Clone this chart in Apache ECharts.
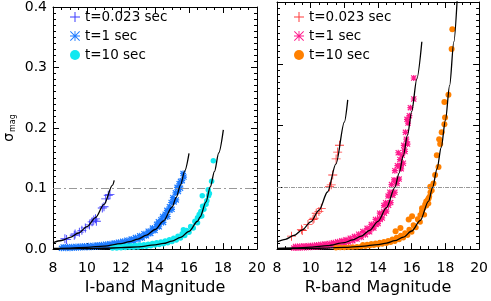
<!DOCTYPE html>
<html><head><meta charset="utf-8">
<script src="https://cdn.jsdelivr.net/npm/echarts@6/dist/echarts.min.js"></script>
<style>html,body{margin:0;padding:0;background:#fff}#c{width:491px;height:301px}</style>
</head><body><div id="c"></div>
<script>
// ---------- data (magnitude, sigma_mag) ----------
const legendNames = ['t=0.023 sec', 't=1 sec', 't=10 sec'];
const threshold = 0.1;

// ----- I band -----
const iT0023 = [[8.7,0.017],[8.8,0.016],[9.25,0.023],[9.3,0.025],[9.55,0.028],[9.7,0.031],[9.9,0.035],[10.15,0.040],[10.3,0.045],[10.4,0.048],[10.5,0.050],[10.55,0.046],[10.9,0.068],[11.0,0.070],[11.1,0.083],[11.25,0.089],[11.35,0.090]];
const iT1 = [
  [8.5,0.0012],[8.75,0.0014],[9.0,0.0016],[9.25,0.0019],[9.5,0.0021],[9.75,0.0025],[10.0,0.0028],[10.25,0.0031],[10.5,0.0036],[10.75,0.0042],[11.0,0.0048],[11.25,0.0055],[11.5,0.0064],[11.75,0.0074],[12.0,0.0086],[12.25,0.0100],[12.5,0.0116],[12.75,0.0135],[13.0,0.0158],[13.25,0.0185],[13.5,0.0219],[13.75,0.0259],[14.0,0.0308],[14.25,0.0369],[14.5,0.0441],[14.75,0.0539],[15.0,0.0657],[15.25,0.0813],[15.5,0.1006],[15.7,0.119],
  [8.6,0.0036],[8.85,0.0038],[9.1,0.0040],[9.35,0.0044],[9.6,0.0046],[9.85,0.0051],[10.1,0.0055],[10.35,0.0060],[10.6,0.0066],[10.85,0.0073],[11.1,0.0080],[11.35,0.0090],[11.6,0.0100],[11.85,0.0114],[12.1,0.0128],[12.35,0.0146],[12.6,0.0166],[12.85,0.0190],[13.1,0.0219],[13.35,0.0254],[13.6,0.0296],[13.85,0.0348],[14.1,0.0409],[14.35,0.0486],[14.6,0.0577],[14.85,0.0700],[15.05,0.0850],[15.3,0.1020],[15.5,0.1120],[15.65,0.1250],
  [13.625,0.026],[13.875,0.031],[14.125,0.037],[14.375,0.044],[14.625,0.053],[14.875,0.064],[15.125,0.078],[15.375,0.095],[15.6,0.113],[14.2,0.045],[14.45,0.054],[14.7,0.064],[14.95,0.077],[15.2,0.093],[15.42,0.108]];
const iT10 = [
  [11.5,0.0017],[11.75,0.0019],[12.0,0.0022],[12.25,0.0025],[12.5,0.0029],[12.75,0.0032],[13.0,0.0036],[13.25,0.0042],[13.5,0.0048],[13.75,0.0057],[14.0,0.0066],[14.25,0.0076],[14.5,0.0088],[14.75,0.0105],[15.0,0.0125],[15.25,0.0152],[15.5,0.0183],[15.75,0.0226],[16.0,0.0278],[16.25,0.0349],[16.5,0.0437],[16.75,0.0546],[17.0,0.0740],[17.2,0.0920],
  [11.6,0.0042],[11.85,0.0044],[12.1,0.0048],[12.35,0.0051],[12.6,0.0056],[12.85,0.0061],[13.1,0.0066],[13.35,0.0073],[13.6,0.0081],[13.85,0.0092],[14.1,0.0103],[14.35,0.0116],[14.6,0.0132],[14.85,0.0153],[15.1,0.0178],[15.35,0.0212],[15.6,0.0252],[15.85,0.0306],[16.1,0.0372],[16.35,0.0460],[16.6,0.0572],[16.8,0.0710],
  [15.875,0.029],[16.125,0.036],[16.375,0.044],[16.625,0.054],[16.875,0.066],[17.05,0.080],[17.15,0.088],[16.5,0.052],[16.7,0.062],
  [15.67,0.032],[16.78,0.088],[17.13,0.098],[17.33,0.112],[17.43,0.146]];
const iFit0023 = [[8.0,0.0105],[8.5,0.0142],[9.0,0.0193],[9.5,0.0266],[10.0,0.037],[10.5,0.052],[11.0,0.0738],[11.5,0.1058],[11.6,0.1137]];
const iFit1 = [[8,0.001],[9,0.0017],[10,0.0029],[11,0.005],[12,0.009],[12.5,0.0122],[13,0.0166],[13.5,0.023],[14,0.0324],[14.5,0.0464],[15,0.0692],[15.25,0.0856],[15.5,0.1059],[15.75,0.1293],[16.0,0.158]];
const iFit10 = [[8,0.0003],[9,0.0005],[10,0.0008],[11,0.0014],[12,0.0023],[13,0.0038],[14,0.0069],[14.5,0.0093],[15,0.0132],[15.5,0.0193],[16,0.0293],[16.5,0.046],[16.65,0.053],[17,0.0779],[17.25,0.1026],[17.5,0.1285],[17.75,0.159],[18.02,0.197]];

// ----- R band -----
const rT0023 = [[8.86,0.021],[9.45,0.032],[9.5,0.030],[9.84,0.040],[10.14,0.048],[10.2,0.050],[10.33,0.058],[10.49,0.061],[10.63,0.066],[11.12,0.101],[11.22,0.104],[11.31,0.120],[11.51,0.146],[11.6,0.157],[11.71,0.168]];
const rT1 = [
  [9.0,0.0017],[9.25,0.0019],[9.5,0.0022],[9.75,0.0026],[10.0,0.0029],[10.25,0.0034],[10.5,0.0040],[10.75,0.0045],[11.0,0.0052],[11.25,0.0062],[11.5,0.0072],[11.75,0.0084],[12.0,0.0098],[12.25,0.0115],[12.5,0.0136],[12.75,0.0162],[13.0,0.0193],[13.25,0.0233],[13.5,0.0280],[13.75,0.0340],[14.0,0.0413],[14.25,0.0504],[14.5,0.0616],[14.75,0.0753],[15.0,0.0920],[15.25,0.1133],[15.5,0.1390],[15.75,0.1700],
  [9.1,0.0043],[9.35,0.0046],[9.6,0.0050],[9.85,0.0055],[10.1,0.0060],[10.35,0.0066],[10.6,0.0074],[10.85,0.0081],[11.1,0.0091],[11.35,0.0104],[11.6,0.0118],[11.85,0.0134],[12.1,0.0153],[12.35,0.0176],[12.6,0.0205],[12.85,0.0240],[13.1,0.0283],[13.35,0.0336],[13.6,0.0400],[13.85,0.0481],[14.1,0.0581],[14.35,0.0705],[14.6,0.0858],[14.8,0.1044],[15.0,0.1270],[15.2,0.1560],
  [13.6,0.0334],[13.85,0.0406],[14.1,0.0494],[14.35,0.0603],[14.6,0.0737],[14.85,0.0901],[15.1,0.1100],[15.35,0.1354],[15.55,0.1600],
  [13.875,0.040],[14.125,0.048],[14.375,0.058],[14.625,0.071],[14.875,0.087],[15.125,0.106],[15.375,0.130],[15.6,0.158],[15.68,0.178],[14.45,0.075],[14.7,0.092],[14.95,0.112],[15.15,0.135],[15.3,0.145],
  [15.43,0.152],[15.53,0.168],[15.63,0.189],[15.72,0.210],[15.78,0.204],[15.86,0.216],[15.92,0.229],[16.12,0.243],[16.12,0.277]];
const rT10Band = [
  [11.5,0.0021],[11.75,0.0024],[12.0,0.0027],[12.25,0.0030],[12.5,0.0034],[12.75,0.0038],[13.0,0.0043],[13.25,0.0048],[13.5,0.0055],[13.75,0.0063],[14.0,0.0070],[14.25,0.0081],[14.5,0.0093],[14.75,0.0109],[15.0,0.0129],[15.25,0.0154],[15.5,0.0183],[15.75,0.0226],[16.0,0.0278],[16.25,0.0349],[16.5,0.0437],[16.75,0.0558],[17.0,0.0738],
  [13.1,0.0069],[13.35,0.0076],[13.6,0.0085],[13.85,0.0096],[14.1,0.0106],[14.35,0.0121],[14.6,0.0137],[14.85,0.0160],[15.1,0.0187],[15.35,0.0221],[15.6,0.0261],[15.85,0.0319],[16.1,0.0391],[16.35,0.0487],[16.6,0.0608],[16.85,0.0773],[17.1,0.0920],
  [15.875,0.030],[16.125,0.037],[16.375,0.047],[16.625,0.058],[16.875,0.070],[17.05,0.085],[17.2,0.095],[16.5,0.055],[16.7,0.066],[16.95,0.080]];
const rT10Scatter = [[15.04,0.029],[15.33,0.034],[15.82,0.048],[16.02,0.053],[16.61,0.066],[16.8,0.072],[17.0,0.082],[17.1,0.101],[17.29,0.106],[17.39,0.120],[17.59,0.133],[17.49,0.152],[17.69,0.170],[17.63,0.178],[17.78,0.189],[17.94,0.202],[17.98,0.213],[17.94,0.238],[18.18,0.250],[18.37,0.324],[18.41,0.356]];
const rFit0023 = [[8.0,0.0115],[8.5,0.0159],[9.0,0.0221],[9.5,0.0311],[10.0,0.0441],[10.5,0.0632],[11.0,0.0924],[11.5,0.1379],[12.0,0.2057],[12.2,0.2415]];
const rFit1 = [[8,0.0011],[9,0.0018],[10,0.0032],[11,0.0057],[12,0.0106],[12.5,0.0148],[13,0.021],[13.5,0.0304],[14,0.0449],[14.5,0.067],[15,0.1],[15.25,0.1231],[15.5,0.1511],[15.75,0.1845],[16.0,0.2231],[16.3,0.2753],[16.6,0.3356]];
const rFit10 = [[8,0.0004],[9,0.0007],[10,0.0011],[11,0.0017],[12,0.0028],[13,0.0045],[14,0.0074],[14.5,0.0098],[15,0.0136],[15.5,0.0193],[16,0.0293],[16.5,0.046],[17,0.0777],[17.24,0.1],[17.5,0.1297],[17.75,0.1645],[18.0,0.2086],[18.25,0.2645],[18.5,0.3354],[18.7,0.405]];

// ---------- styling ----------
const FONT = 'DejaVu Sans';
const PLUS = 'path://M9,0h2v20h-2zM0,9h20v2h-20z';
const ASTER = 'path://M9.1,0h1.8v20h-1.8zM0,9.1h20v1.8h-20zM1.3,0L20,18.7L18.7,20L0,1.3zM18.7,0L20,1.3L1.3,20L0,18.7z';
const ASTER_B = 'path://M8,0h4v20h-4zM0,8h20v4h-20zM2.8,0L20,17.2L17.2,20L0,2.8zM17.2,0L20,2.8L2.8,20L0,17.2z';
const colI = ['#3c3cff', '#1e7bff', '#12e8f0'];
const colR = ['#ff3c3c', '#ff1a8c', '#ff8000'];

function xAx(grid, pos, name) {
  return {
    type: 'value', gridIndex: grid, position: pos, min: 8, max: 20, interval: 2,
    name: name || '', nameLocation: 'middle', nameGap: 29,
    nameTextStyle: {fontFamily: FONT, fontSize: 16, color: '#000'},
    axisLine: {show: true, onZero: false, lineStyle: {color: '#000', width: 1}},
    axisTick: {show: true, inside: true, length: 6, lineStyle: {color: '#000'}},
    minorTick: {show: true, splitNumber: 4, length: 3, lineStyle: {color: '#000'}},
    axisLabel: {show: pos === 'bottom', fontFamily: FONT, fontSize: 14, color: '#000', margin: 12},
    splitLine: {show: false}
  };
}
function yAx(grid, pos, showLabel) {
  return {
    type: 'value', gridIndex: grid, position: pos, min: 0, max: 0.4, interval: 0.1,
    name: showLabel ? '{a|σ}{b|mag}' : '', nameLocation: 'middle', nameGap: 36, nameRotate: 90,
    nameTextStyle: {rich: {
      a: {fontFamily: FONT, fontSize: 14, color: '#000'},
      b: {fontFamily: FONT, fontSize: 8, color: '#000', padding: [8, 0, 0, 1]}
    }},
    axisLine: {show: true, onZero: false, lineStyle: {color: '#000', width: 1}},
    axisTick: {show: true, inside: true, length: 6, lineStyle: {color: '#000'}},
    minorTick: {show: true, splitNumber: 10, length: 3, lineStyle: {color: '#000'}},
    axisLabel: {show: showLabel, fontFamily: FONT, fontSize: 14, color: '#000', margin: 6,
      formatter: v => v.toFixed(1)},
    splitLine: {show: false}
  };
}
function scat(name, data, xi, color, symbol, size) {
  return {type: 'scatter', name, data, xAxisIndex: xi, yAxisIndex: xi, symbol, symbolSize: size,
    itemStyle: {color, opacity: 1}, z: 2, animation: false, silent: true, large: false};
}
function fit(data, xi, extra) {
  const s = {type: 'line', data, xAxisIndex: xi, yAxisIndex: xi, smooth: 0.3, smoothMonotone: 'x',
    symbol: 'none', lineStyle: {color: '#000', width: 1.3}, z: 5, animation: false, silent: true};
  return Object.assign(s, extra || {});
}
function thr(dash) {
  return {silent: true, symbol: 'none', label: {show: false}, animation: false,
    lineStyle: {color: '#999', width: 1, type: dash}, data: [{yAxis: threshold}]};
}
function legend(left, prefix, cols) {
  return {
    left, top: 5, orient: 'vertical', itemGap: 5, itemWidth: 10, itemHeight: 10, selectedMode: false,
    textStyle: {fontFamily: FONT, fontSize: 13.5, color: '#000'},
    formatter: n => n.slice(2),
    data: [
      {name: prefix + legendNames[0], icon: PLUS, itemStyle: {color: cols[0]}},
      {name: prefix + legendNames[1], icon: ASTER, itemStyle: {color: cols[1]}},
      {name: prefix + legendNames[2], icon: 'circle', itemStyle: {color: cols[2]}}
    ]
  };
}

const chart = echarts.init(document.getElementById('c'), null, {renderer: 'canvas'});
chart.setOption({
  animation: false,
  backgroundColor: '#fff',
  grid: [
    {left: 53, right: 234, top: 2, bottom: 49.5},
    {left: 277, right: 10, top: 2, bottom: 49.5}
  ],
  xAxis: [xAx(0, 'bottom', 'I-band Magnitude'), xAx(0, 'top'), xAx(1, 'bottom', 'R-band Magnitude'), xAx(1, 'top')],
  yAxis: [yAx(0, 'left', true), yAx(0, 'right', false), yAx(1, 'left', false), yAx(1, 'right', false)],
  legend: [legend(65, 'I:', colI), legend(289, 'R:', colR)],
  series: [
    scat('I:' + legendNames[1], iT1, 0, colI[1], ASTER_B, 6),
    scat('I:' + legendNames[2], iT10, 0, colI[2], 'circle', 5.5),
    scat('I:' + legendNames[0], iT0023, 0, colI[0], PLUS, 9),
    fit(iFit0023, 0, {markLine: thr([8, 3, 2, 3])}),
    fit(iFit1, 0), fit(iFit10, 0),
    scat('R:' + legendNames[1], rT1, 2, colR[1], ASTER_B, 6),
    scat('R:' + legendNames[2], rT10Band, 2, colR[2], 'circle', 5.5),
    scat('R:' + legendNames[2], rT10Scatter, 2, colR[2], 'circle', 6),
    scat('R:' + legendNames[0], rT0023, 2, colR[0], PLUS, 9),
    fit(rFit0023, 2, {markLine: thr([4, 1, 1, 1])}),
    fit(rFit1, 2), fit(rFit10, 2)
  ]
});
</script></body></html>
